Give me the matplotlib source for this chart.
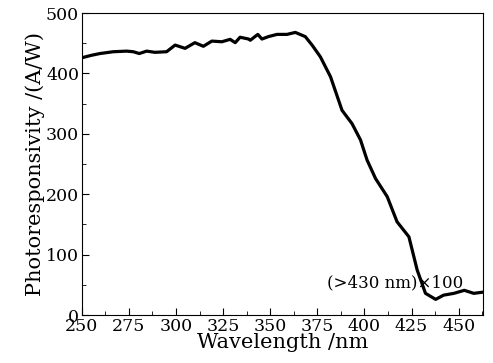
import matplotlib
matplotlib.use("Agg")
import matplotlib.pyplot as plt
from matplotlib.ticker import MultipleLocator

# curve (wavelength nm, A/W)
wl = [250, 255, 259.6, 266.7, 273.8, 277.3, 280.5, 284.4, 288.8, 295, 299.5, 304.8,
      310, 314.5, 319, 324.3, 328.7, 331.4, 334, 338.5, 339.4, 343.4, 345.6, 349,
      353.6, 358.9, 363.3, 368.6, 372.2, 376.6, 382, 388.1, 393.4, 397.9, 401.4,
      405.9, 412.1, 417.3, 423.6, 428, 432.4, 437.8, 442, 447.5, 453, 458, 463]
resp = [426, 430, 433, 436, 437, 436, 433, 437, 435, 436, 447, 441.6,
        451, 445, 453.6, 452.5, 456.5, 451, 460, 457, 455, 464.7, 457, 461,
        464.7, 464.7, 468, 461, 447, 427.6, 394.5, 339, 317, 290, 256.6,
        226, 196, 154.5, 129.6, 74.5, 36, 26, 33, 36, 41, 36, 38]

plt.rcParams['font.family'] = ['DejaVu Serif']
fig = plt.figure(figsize=(4.93, 3.63), dpi=100)
ax = fig.add_axes([0.166, 0.132, 0.814, 0.832])
ax.plot(wl, resp, color='black', lw=2.3)

ax.set_xlim(250, 463)
ax.set_ylim(0, 500)
ax.xaxis.set_major_locator(MultipleLocator(25))
ax.xaxis.set_minor_locator(MultipleLocator(12.5))
ax.yaxis.set_major_locator(MultipleLocator(100))
ax.yaxis.set_minor_locator(MultipleLocator(50))
ax.tick_params(which='both', direction='in', labelsize=12.5, pad=2)
ax.tick_params(which='major', length=5)
ax.tick_params(which='minor', length=3)
ax.set_xlabel('Wavelength /nm', fontsize=15, labelpad=-1)
ax.set_ylabel('Photoresponsivity /(A/W)', fontsize=15, labelpad=1)
ax.text(416.5, 53, '(>430 nm)×100', fontsize=12, ha='center', va='center')

fig.savefig('out.png', dpi=100)
